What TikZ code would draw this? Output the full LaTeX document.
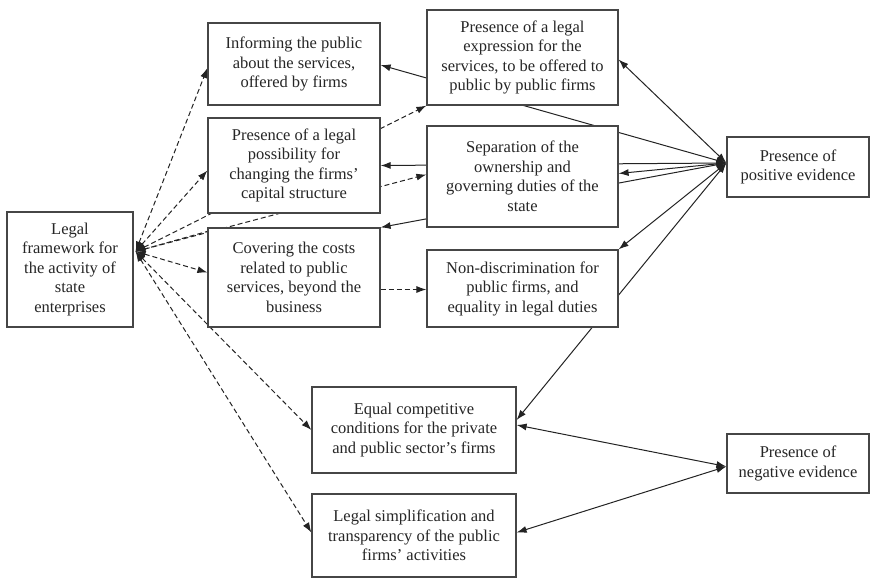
\documentclass[tikz,border=0pt]{standalone}
\usepackage{fontspec}
\setmainfont{Liberation Serif}
\usetikzlibrary{
	arrows.meta, positioning, calc, backgrounds
}
\definecolor{boxgray}     {RGB}{70,  70,  70}
\definecolor{linkgray}    {RGB}{35,  35,  35}

\begin{document}
\begin{tikzpicture}[x=1pt,y=-1pt,
						box/.style={draw=boxgray,line width=1.2pt,fill=white,align=center,inner sep=2pt,text=black!85,font=\fontsize{16.5}{19.5}\selectfont},
						poslink/.style={linkgray,line width=1pt,{Latex[length=10pt,width=7pt]}-{Latex[length=10pt,width=7pt]}},
						leglink/.style={linkgray,line width=1pt,dash pattern=on 5pt off 3pt,{Latex[length=10pt,width=7pt]}-{Latex[length=10pt,width=7pt]}}]
						\useasboundingbox (0,0) rectangle (870,578);
						% left column
						\node[box,minimum width=126pt,minimum height=115pt] (frame) at (70,269.5) {Legal\\framework for\\the activity of\\state\\enterprises};
						% middle columns
						\node[box,minimum width=172pt,minimum height=82pt] (inform) at (294,64) {Informing the public\\about the services,\\offered by firms};
						\node[box,minimum width=172pt,minimum height=95pt] (possib) at (294,165.5) {Presence of a legal\\possibility for\\changing the firms’\\capital structure};
						\node[box,minimum width=172pt,minimum height=99pt] (costs) at (294,277.5) {Covering the costs\\related to public\\services, beyond the\\business};
						\node[box,minimum width=191pt,minimum height=95pt] (express) at (522.5,57.5) {Presence of a legal\\expression for the\\services, to be offered to\\public by public firms};
						\node[box,minimum width=191pt,minimum height=101pt] (separ) at (522.5,176.5) {Separation of the\\ownership and\\governing duties of the\\state};
						\node[box,minimum width=191pt,minimum height=77pt] (nondisc) at (522.5,288.5) {Non-discrimination for\\public firms, and\\equality in legal duties};
						\node[box,minimum width=204pt,minimum height=86pt] (equal) at (414,430) {Equal competitive\\conditions for the private\\and public sector’s firms};
						\node[box,minimum width=204pt,minimum height=83pt] (simpl) at (414,535.5) {Legal simplification and\\transparency of the public\\firms’ activities};
						% evidence
						\node[box,minimum width=142pt,minimum height=60pt] (positive) at (798,167) {Presence of\\positive evidence};
						\node[box,minimum width=142pt,minimum height=59pt] (negative) at (798,463.5) {Presence of\\negative evidence};
						\begin{scope}[on background layer]
							\coordinate (pj) at ($(positive.west)+(0,-4)$);
							\coordinate (nj) at ($(negative.west)+(0,3)$);
							\coordinate (fj) at ($(frame.east)+(2,-18)$);
							\foreach \t/\d in {express.east/2, inform.east/1, possib.east/0, separ.east/-3, costs.north east/0, nondisc.north east/0, equal.east/-10}
								{\draw[poslink] (pj) -- ($(\t)+(0,\d)$);}
							\foreach \t/\d in {equal.east/-5, simpl.east/-3}
								{\draw[poslink] (nj) -- ($(\t)+(0,\d)$);}
							\foreach \t/\d in {inform.west/4, possib.west/5, express.south west/0, separ.west/-2, costs.west/-5, equal.west/0, simpl.west/-3}
								{\draw[leglink] (fj) -- ($(\t)+(0,\d)$);}
							\draw[leglink,-] (fj) -- ($(costs.north west)+(0,4)$);
							\draw[leglink,-{Latex[length=10pt,width=7pt]}] ($(costs.east)+(0,12)$) -- ($(nondisc.west)+(0,1)$);
						\end{scope}
					\end{tikzpicture}
\end{document}
